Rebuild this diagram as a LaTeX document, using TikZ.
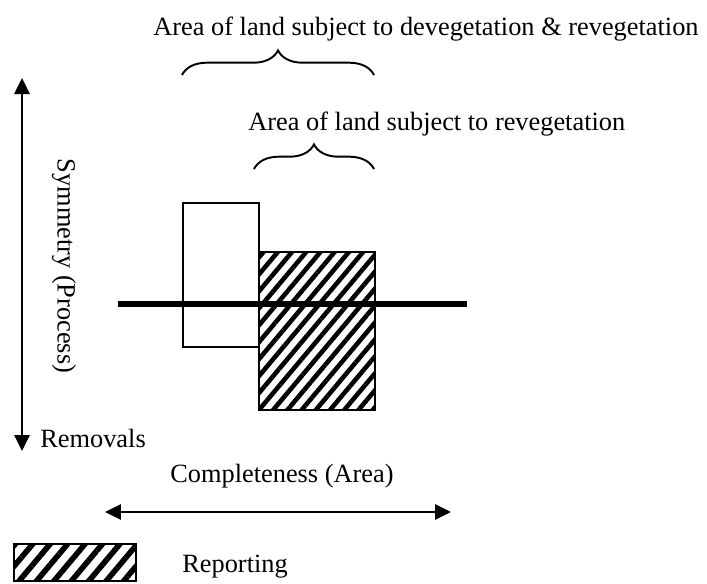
\documentclass[tikz,border=0pt]{standalone}
\usepackage{fontspec}
\setmainfont{Liberation Serif}
\usetikzlibrary{arrows.meta, patterns.meta, decorations.pathreplacing}

\begin{document}
\begin{tikzpicture}[x=0.02cm, y=-0.02cm,
        lbl/.style={inner sep=0pt, font=\fontsize{15}{18}\selectfont},
        axisarrow/.style={line width=1.6pt, {Triangle[length=0.32cm,width=0.3cm]}-{Triangle[length=0.32cm,width=0.3cm]}},
        bracket/.style={line width=1.1pt, decorate, decoration={brace, amplitude=14pt}},
        hatchbox/.style={draw=black, line width=0.8pt, pattern={Lines[angle=50, distance=#1, line width=0.42*#1]}}]
        \useasboundingbox (0, 0) rectangle (707, 583);

        % axes
        \coordinate (top) at (22, 78);
        \coordinate (bottom) at (22, 451);
        \draw[axisarrow] (top) -- (bottom);
        \node (sym) at (64, 266)[lbl, rotate=-90] {Symmetry (Process)};
        \node (rem) at (40, 447)[lbl, anchor=base west] {Removals};

        \coordinate (left) at (105, 512);
        \coordinate (right) at (451, 512);
        \draw[axisarrow] (left) -- (right);
        \node (compl) at (170, 482)[lbl, anchor=base west] {Completeness (Area)};

        % boxes
        \draw[line width=0.8pt, fill=white] (183, 203) rectangle (259, 347);
        \draw[hatchbox=6.2pt] (259, 252) rectangle (375, 410);

        \coordinate (zeroL) at (118, 304);
        \coordinate (zeroR) at (467, 304);
        \draw[line width=3.4pt] (zeroL) -- (zeroR);

        % braces
        \node (devreveg) at (153, 35)[lbl, anchor=base west] {Area of land subject to devegetation \& revegetation};
        \coordinate (b1l) at (182, 75);
        \coordinate (b1r) at (374, 75);
        \draw[bracket] (b1l) -- (b1r);

        \node (reveg) at (248, 130)[lbl, anchor=base west] {Area of land subject to revegetation};
        \coordinate (b2l) at (254, 169);
        \coordinate (b2r) at (374, 169);
        \draw[bracket] (b2l) -- (b2r);

        % legend
        \draw[hatchbox=7.6pt] (14, 544) rectangle (136, 581);
        \node (rep) at (182, 572)[lbl, anchor=base west] {Reporting};
    \end{tikzpicture}
\end{document}
